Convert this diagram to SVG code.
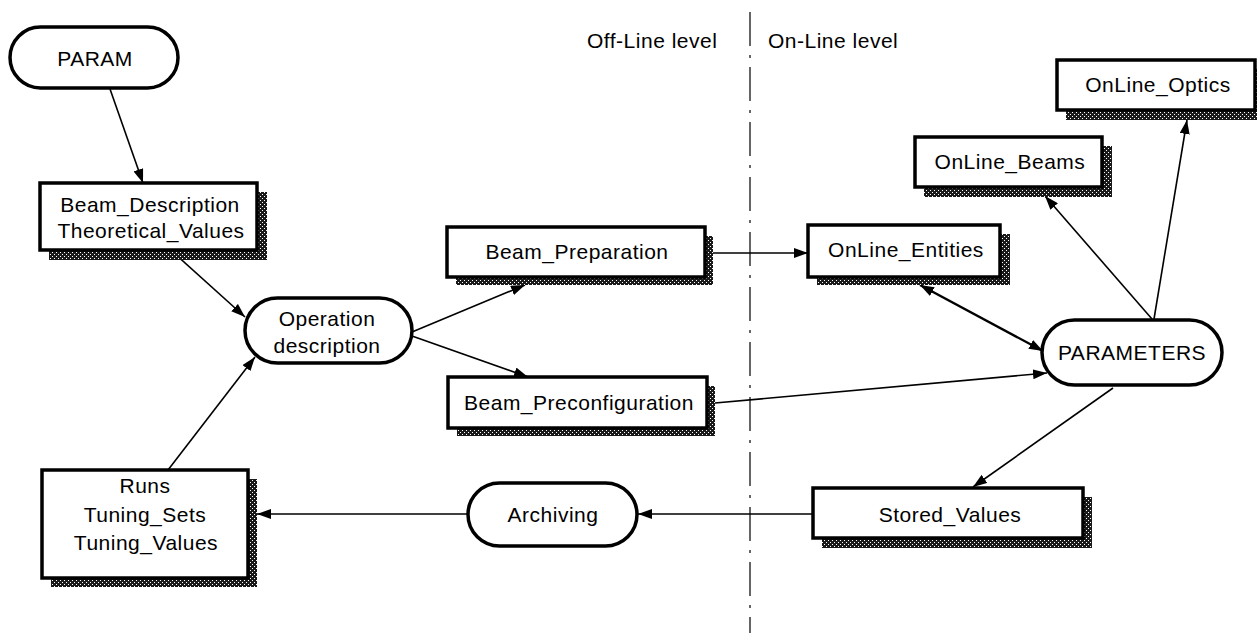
<svg xmlns="http://www.w3.org/2000/svg" width="1257" height="633" viewBox="0 0 1257 633">
<defs>
<pattern id="dots" width="4" height="4" patternUnits="userSpaceOnUse">
<rect width="4" height="4" fill="#1a1a1a"/>
<rect x="0" y="0" width="1" height="1" fill="#fff"/>
<rect x="2" y="2" width="1" height="1" fill="#fff"/>
</pattern>
<marker id="arr" viewBox="0 0 14 10" refX="14" refY="5" markerWidth="14" markerHeight="10" markerUnits="userSpaceOnUse" orient="auto-start-reverse">
<path d="M0,0 L14,5 L0,10 z" fill="#000"/>
</marker>
</defs>
<style>
text{font-family:"Liberation Sans",Arial,Helvetica,sans-serif;font-size:21px;letter-spacing:0.5px;fill:#000;text-anchor:middle}
.lbl{text-anchor:start}
.box{fill:#fff;stroke:#000;stroke-width:3.5}
.sh{fill:url(#dots)}
.pill{fill:#fff;stroke:#000;stroke-width:3.5}
.c{fill:none;stroke:#000;stroke-width:1.6;marker-end:url(#arr)}
.c2{fill:none;stroke:#000;stroke-width:2.4;marker-end:url(#arr);marker-start:url(#arr)}
.dash{stroke:#000;stroke-width:1.2;stroke-dasharray:34 9 3 9}
</style>
<rect width="1257" height="633" fill="#fff"/>
<g id="divider">
<line class="dash" x1="750" y1="12" x2="750" y2="633"/>
<text class="lbl" x="587" y="48">Off-Line level</text>
<text class="lbl" x="768" y="48">On-Line level</text>
</g>
<g id="connectors">
<path class="c" d="M110,89 L143,183"/>
<path class="c" d="M174,253 L245,317"/>
<path class="c" d="M168,470 L255,357"/>
<path class="c" d="M412,332 L525,285"/>
<path class="c" d="M412,336 L528,377"/>
<path class="c" d="M713,253 L808,253"/>
<path class="c2" d="M920,285 L1043,351"/>
<path class="c" d="M715,403 L1047,373"/>
<path class="c" d="M1152,319 L1045,196"/>
<path class="c" d="M1154,319 L1187,120"/>
<path class="c" d="M1113,388 L973,487"/>
<path class="c" d="M813,514 L638,514"/>
<path class="c" d="M468,514 L257,514"/>
</g>
<g id="PARAM">
<rect class="pill" x="10" y="27" width="168" height="61" rx="30.5"/>
<text x="95" y="66">PARAM</text>
</g>
<g id="Beam_Description">
<rect class="sh" x="49" y="192" width="218" height="68"/>
<rect class="box" x="40" y="183" width="217" height="67"/>
<text x="150" y="212">Beam_Description</text>
<text x="151" y="238">Theoretical_Values</text>
</g>
<g id="Operation">
<rect class="pill" x="245" y="298" width="167" height="65" rx="32.5"/>
<text x="327" y="326">Operation</text>
<text x="327" y="353">description</text>
</g>
<g id="Beam_Preparation">
<rect class="sh" x="456" y="236" width="257" height="49"/>
<rect class="box" x="447" y="227" width="258" height="50"/>
<text x="577" y="259">Beam_Preparation</text>
</g>
<g id="Beam_Preconfiguration">
<rect class="sh" x="457" y="386" width="258" height="50"/>
<rect class="box" x="448" y="377" width="259" height="51"/>
<text x="579" y="410">Beam_Preconfiguration</text>
</g>
<g id="OnLine_Entities">
<rect class="sh" x="817" y="234" width="193" height="51"/>
<rect class="box" x="808" y="225" width="192" height="52"/>
<text x="906" y="257">OnLine_Entities</text>
</g>
<g id="OnLine_Beams">
<rect class="sh" x="924" y="146" width="188" height="51"/>
<rect class="box" x="915" y="137" width="187" height="50"/>
<text x="1010" y="169">OnLine_Beams</text>
</g>
<g id="OnLine_Optics">
<rect class="sh" x="1066" y="69" width="198" height="51"/>
<rect class="box" x="1057" y="60" width="198" height="50"/>
<text x="1158" y="92">OnLine_Optics</text>
</g>
<g id="PARAMETERS">
<rect class="pill" x="1042" y="320" width="180" height="65" rx="32.5"/>
<text x="1132" y="360">PARAMETERS</text>
</g>
<g id="Stored_Values">
<rect class="sh" x="822" y="497" width="270" height="51"/>
<rect class="box" x="813" y="488" width="270" height="50"/>
<text x="950" y="522">Stored_Values</text>
</g>
<g id="Archiving">
<rect class="pill" x="468" y="483" width="169" height="63" rx="31.5"/>
<text x="553" y="522">Archiving</text>
</g>
<g id="Runs">
<rect class="sh" x="51" y="479" width="206" height="108"/>
<rect class="box" x="42" y="470" width="206" height="108"/>
<text x="145" y="493">Runs</text>
<text x="145" y="522">Tuning_Sets</text>
<text x="146" y="550">Tuning_Values</text>
</g>
</svg>
